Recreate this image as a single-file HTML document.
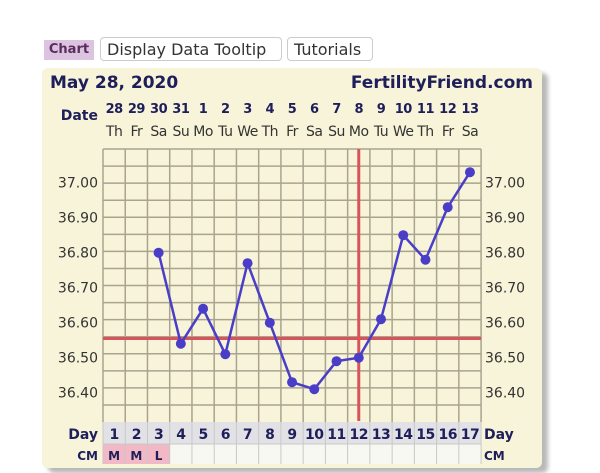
<!DOCTYPE html>
<html><head><meta charset="utf-8"><style>
body{margin:0;width:600px;height:464px;overflow:hidden;background:#fff;font-family:"DejaVu Sans","Liberation Sans",sans-serif;}
.btn{position:absolute;top:37px;height:24px;border:1px solid #ccc;border-radius:4px;background:#fff;font-size:16px;color:#333;line-height:24px;padding:0 6px;box-sizing:border-box}
</style></head><body>
<div style="position:absolute;left:44px;top:40px;width:50px;height:20px;background:#dcc3df;color:#5a2d5e;font-weight:bold;font-size:13px;line-height:20px;text-align:center">Chart</div>
<div class="btn" style="left:100px;width:182px;">Display Data Tooltip</div>
<div class="btn" style="left:287px;width:86px;">Tutorials</div>
<div style="position:absolute;left:48px;top:73px;width:500px;height:400px;background:#b8b8b8;border-radius:6px;filter:blur(2px)"></div>
<div style="position:absolute;left:42px;top:68px;width:500px;height:400px;background:#f8f4d9;border-radius:6px"></div>
<svg style="position:absolute;left:0;top:0" width="600" height="464" font-family="DejaVu Sans, Liberation Sans, sans-serif">
<text x="50" y="88" font-size="17" font-weight="bold" fill="#1e1e5a">May 28, 2020</text>
<text x="533" y="88" font-size="17" font-weight="bold" fill="#1e1e5a" text-anchor="end">FertilityFriend.com</text>
<text x="98" y="120" font-size="14" font-weight="bold" fill="#1e1e5a" text-anchor="end">Date</text>
<g id="g"></g>
</svg>
<script>
var s='',L=103,W=22.24,T=149,B=422;
function cx(i){return L+(i-0.5)*W}
function yv(v){return 182.7+(37-v)*350}
var d=['28','29','30','31','1','2','3','4','5','6','7','8','9','10','11','12','13'];
var w=['Th','Fr','Sa','Su','Mo','Tu','We','Th','Fr','Sa','Su','Mo','Tu','We','Th','Fr','Sa'];
for(var i=1;i<=17;i++){s+='<text x="'+cx(i)+'" y="113" font-size="13" font-weight="bold" fill="#1e1e5a" text-anchor="middle" letter-spacing="-0.5">'+d[i-1]+'</text>';
s+='<text x="'+cx(i)+'" y="136" font-size="14" fill="#333" text-anchor="middle" letter-spacing="-0.5">'+w[i-1]+'</text>';}
// grid
s+='<rect x="'+L+'" y="'+T+'" width="'+(17*W)+'" height="'+(B-T)+'" fill="#f8f4d9"/>';
for(var i=0;i<=17;i++)s+='<line x1="'+(L+i*W)+'" x2="'+(L+i*W)+'" y1="'+T+'" y2="'+B+'" stroke="#a9a390" stroke-width="1.5"/>';
for(var k=0;k<=15;k++){var y=T+k*(B-T)/16;s+='<line x1="'+L+'" x2="'+(L+17*W)+'" y1="'+y+'" y2="'+y+'" stroke="#a9a390" stroke-width="1.5"/>';}
var lab=['37.00','36.90','36.80','36.70','36.60','36.50','36.40'];
for(var k=0;k<7;k++){var y=yv(37-k*0.1)+5;s+='<text x="98" y="'+y+'" font-size="14" fill="#333" text-anchor="end">'+lab[k]+'</text><text x="485" y="'+y+'" font-size="14" fill="#333">'+lab[k]+'</text>';}
// day row
s+='<rect x="'+L+'" y="422" width="'+(17*W)+'" height="22" fill="#e2e2e6"/>';
for(var i=1;i<=17;i++){var f=i<=3?'#f2b8c6':'#f8f8f2';s+='<rect x="'+(L+(i-1)*W)+'" y="444" width="'+W+'" height="22" fill="'+f+'"/>';}
for(var i=0;i<=17;i++)s+='<line x1="'+(L+i*W)+'" x2="'+(L+i*W)+'" y1="422" y2="464" stroke="#c8c8c8" stroke-width="1"/>';
s+='<line x1="'+L+'" x2="'+(L+17*W)+'" y1="444" y2="444" stroke="#c8c8c8"/>';
for(var i=1;i<=17;i++){s+='<text x="'+cx(i)+'" y="439" font-size="14" font-weight="bold" fill="#1e1e5a" text-anchor="middle" letter-spacing="-0.5">'+i+'</text>';}
['M','M','L'].forEach(function(c,j){s+='<text x="'+cx(j+1)+'" y="460" font-size="12" font-weight="bold" fill="#1e1e5a" text-anchor="middle">'+c+'</text>';});
s+='<text x="98" y="439" font-size="14" font-weight="bold" fill="#1e1e5a" text-anchor="end">Day</text><text x="484" y="439" font-size="14" font-weight="bold" fill="#1e1e5a">Day</text>';
s+='<text x="98" y="460" font-size="12" font-weight="bold" fill="#1e1e5a" text-anchor="end">CM</text><text x="484" y="460" font-size="12" font-weight="bold" fill="#1e1e5a">CM</text>';
// red lines
s+='<line x1="'+cx(12)+'" x2="'+cx(12)+'" y1="149" y2="421" stroke="#d9545a" stroke-width="3"/>';
s+='<line x1="'+L+'" x2="'+(L+17*W)+'" y1="'+yv(36.555)+'" y2="'+yv(36.555)+'" stroke="#d9545a" stroke-width="3"/>';
var v={3:36.80,4:36.54,5:36.64,6:36.51,7:36.77,8:36.60,9:36.43,10:36.41,11:36.49,12:36.50,13:36.61,14:36.85,15:36.78,16:36.93,17:37.03};
var p=[];for(var i=3;i<=17;i++)p.push(cx(i)+','+yv(v[i]));
s+='<polyline points="'+p.join(' ')+'" fill="none" stroke="#4a3ec8" stroke-width="2.5"/>';
for(var i=3;i<=17;i++)s+='<circle cx="'+cx(i)+'" cy="'+yv(v[i])+'" r="5" fill="#4a3ec8"/>';
document.getElementById('g').innerHTML=s;
</script>
</body></html>
